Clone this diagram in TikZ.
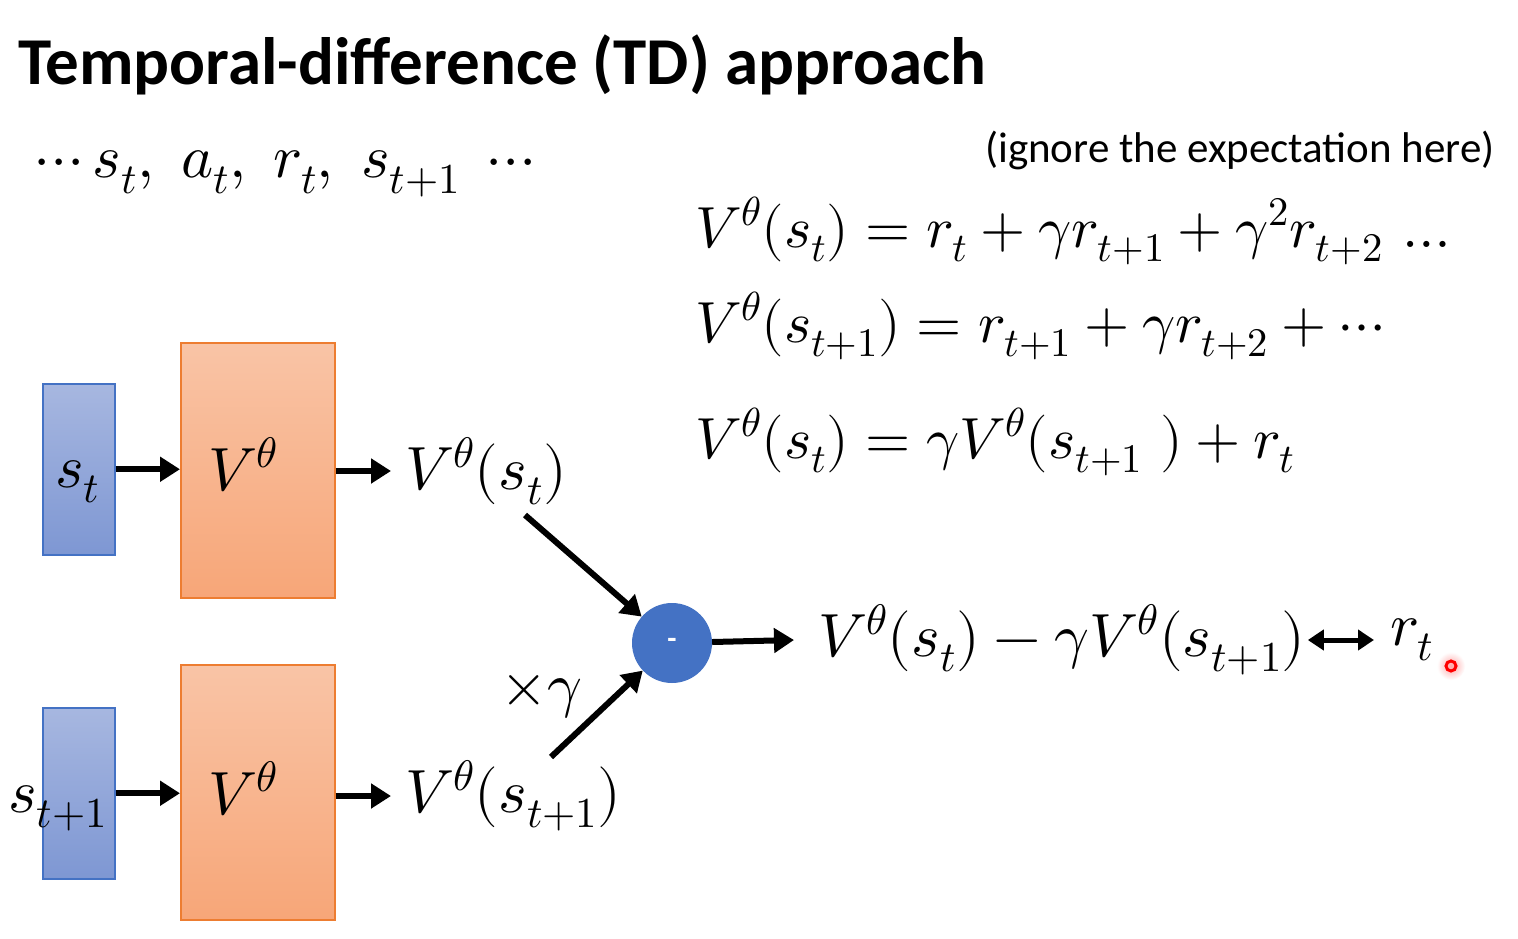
\documentclass[tikz,border=0pt]{standalone}
\usepackage{fontspec}
\usepackage{unicode-math}
\setmathfont{Latin Modern Math}
\newfontfamily\calibri{Carlito}
\usetikzlibrary{arrows.meta}
\definecolor{bluetop}{HTML}{A7B7E0}
\definecolor{bluebot}{HTML}{7E97D3}
\definecolor{blueedge}{HTML}{4472C4}
\definecolor{orgtop}{HTML}{F9C4A6}
\definecolor{orgbot}{HTML}{F7A678}
\definecolor{orgedge}{HTML}{ED7D31}
\definecolor{circfill}{HTML}{4472C4}
\begin{document}
\begin{tikzpicture}[x=1pt,y=-1pt,
  txt/.style={inner sep=0pt, anchor=base west},
  mth/.style={inner sep=0pt, font=\fontsize{58}{64}\selectfont},
  mthb/.style={inner sep=0pt, font=\fontsize{61}{66}\selectfont},
  inbox/.style={draw=blueedge, line width=1.5pt, top color=bluetop, bottom color=bluebot, minimum width=72pt, minimum height=171pt, inner sep=0pt, anchor=north west},
  netbox/.style={draw=orgedge, line width=1.5pt, top color=orgtop, bottom color=orgbot, minimum width=154pt, minimum height=255pt, inner sep=0pt, anchor=north west},
  arr/.style={line width=6pt, -{Triangle[length=20pt,width=24pt]}},
  darr/.style={line width=5pt, {Triangle[length=16pt,width=20pt]}-{Triangle[length=16pt,width=20pt]}}
]
\useasboundingbox (0,0) rectangle (1518,939);
\fill[white] (0,0) rectangle (1518,939);

% title
\node[txt, font=\calibri\bfseries\fontsize{67}{72}\selectfont] (title) at (18,85) {Temporal-difference (TD) approach};
\node[txt, mthb] (seq) at (35,178) {$\cdots s_t,\;a_t,\;r_t,\;s_{t+1}\;\cdots$};
\node[txt, font=\calibri\fontsize{43}{48}\selectfont] (note) at (985,163) {(ignore the expectation here)};

% equations
\node[txt, mth] (eq1) at (695,247) {$V^\theta(s_t)=r_t+\gamma r_{t+1}+\gamma^2 r_{t+2}\,\ldots$};
\node[txt, mth] (eq2) at (695,342) {$V^\theta(s_{t+1})=r_{t+1}+\gamma r_{t+2}+\cdots$};
\node[txt, mth] (eq3) at (695,458) {$V^\theta(s_t)=\gamma V^\theta(s_{t+1}\ )+r_t$};

% boxes
\node[inbox] (b1) at (42,383) {};
\node[netbox] (o1) at (180,342) {};
\node[inbox] (b2) at (42,707) {};
\node[netbox] (o2) at (180,664) {};

\node[txt, mthb] (s1) at (55,487) {$s_t$};
\node[txt, mthb] (s2) at (8,812) {$s_{t+1}$};
\node[txt, mthb] (v1) at (208,490) {$V^\theta$};
\node[txt, mthb] (v2) at (208,814) {$V^\theta$};

\node[mthb, anchor=west] (l1) at (405,471) {$V^\theta(s_t)$};
\node[mthb, anchor=west] (l2) at (405,796) {$V^\theta(s_{t+1})$};

\draw[arr] (b1.east) -- (o1.west |- b1.east);
\draw[arr] (o1.east |- l1.west) -- ([xshift=-14pt]l1.west);
\draw[arr] (b2.east) -- (o2.west |- b2.east);
\draw[arr] (o2.east |- l2.west) -- ([xshift=-14pt]l2.west);

% subtraction node
\node[circle, fill=circfill, minimum size=80pt, inner sep=0pt, text=white, font=\calibri\bfseries\fontsize{30}{30}\selectfont] (minus) at (672,643) {-};
\coordinate (a1) at (525,515);
\coordinate (a2) at (551,757);
\draw[arr] (a1) -- (minus);
\draw[arr] (a2) -- (minus);
\node[txt, mthb] (xg) at (500,705) {$\times\gamma$};

\node[mthb, anchor=west] (expr) at (818,640) {$V^\theta(s_t)-\gamma V^\theta(s_{t+1})$};
\node[mthb, anchor=west] (rt) at (1390,640) {$r_t$};
\draw[arr] (minus) -- ([xshift=-24pt]expr.west);
\draw[darr] ([xshift=2pt]expr.east) -- ([xshift=-16pt]rt.west);

% pointer mark
\shade[inner color=red!35, outer color=white] (1451,666) circle (14);
\draw[red, line width=3pt] (1451,666) circle (5);
\end{tikzpicture}
\end{document}
